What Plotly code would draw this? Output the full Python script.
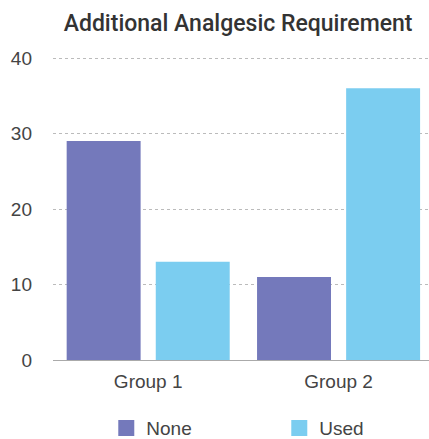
import plotly.graph_objects as go

groups = ["Group 1", "Group 2"]
none_vals = [29, 11]
used_vals = [13, 36]
series_names = ["None", "Used"]
colors = ["#7479BB", "#7BCDF0"]

fig = go.Figure()
for name, vals, col in zip(series_names, [none_vals, used_vals], colors):
    fig.add_trace(go.Bar(x=groups, y=vals, name=name, marker_color=col,
                         marker_line_width=0, showlegend=False))
# legend entries drawn as square markers
for name, col in zip(series_names, colors):
    fig.add_trace(go.Scatter(x=[None], y=[None], mode="markers", name=name,
                             marker=dict(symbol="square", size=18, color=col)))

fig.update_layout(
    width=429, height=439,
    margin=dict(l=53, r=0, t=55, b=79, autoexpand=False),
    paper_bgcolor="white", plot_bgcolor="white",
    font=dict(family="Liberation Sans, Arial, sans-serif", color="#444444", size=19),
    title=dict(text="Additional Analgesic Requirement", x=0.555, xanchor="center",
               y=0.948, yanchor="middle",
               font=dict(family="Roboto, sans-serif", size=23, color="#333333", weight=500)),
    barmode="group", bargap=0.064, bargroupgap=0.17,
    xaxis=dict(range=[-0.5, 1.475], showgrid=False, showline=False,
               ticks="", ticklabelstandoff=8),
    yaxis=dict(range=[0, 40.4], tickvals=[0, 10, 20, 30, 40], showgrid=True,
               gridcolor="#BBBBBB", griddash="dot", gridwidth=1,
               zeroline=True, zerolinecolor="#AAAAAA", zerolinewidth=1,
               ticks="", ticklabelstandoff=20),
    legend=dict(orientation="h", xref="container", yref="container",
                x=0.651, xanchor="center", y=0.025, yanchor="middle",
                entrywidth=128, entrywidthmode="pixels",
                font=dict(size=19, color="#444444"), itemsizing="trace"),
)

fig.write_html("out.html")
